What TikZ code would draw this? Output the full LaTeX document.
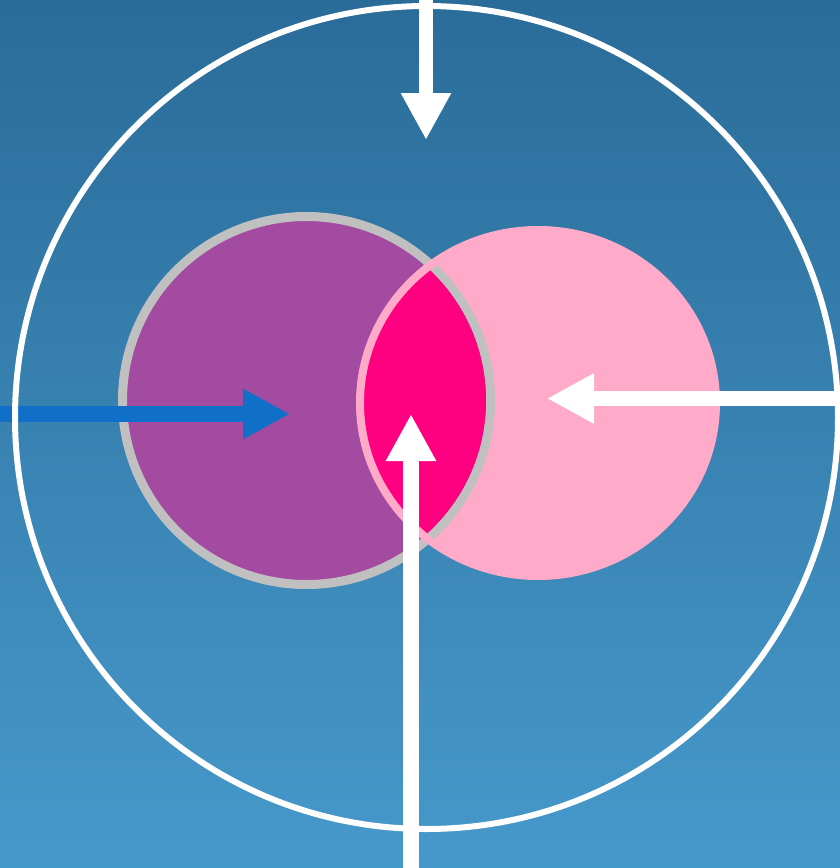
\documentclass[tikz,border=0pt]{standalone}
\usetikzlibrary{arrows.meta}
\definecolor{bgtop}{HTML}{2A6C99}
\definecolor{bgbot}{HTML}{4699CB}
\definecolor{purp}{HTML}{A24BA0}
\definecolor{pinkc}{HTML}{FFAAC8}
\definecolor{mag}{HTML}{FF0080}
\definecolor{ringgray}{HTML}{C0C0C0}
\definecolor{bluearrow}{HTML}{1070C8}
\tikzset{
  bigarrow/.style={line width=15pt, line cap=butt, -{Triangle[length=47pt,width=47pt]}},
}
\begin{document}
\begin{tikzpicture}[x=1pt,y=-1pt]
\useasboundingbox (0,0) rectangle (840,868);
\shade[top color=bgtop, bottom color=bgbot] (0,0) rectangle (840,868);
% pink circle fill
\fill[pinkc] (538,403) ellipse[x radius=182, y radius=177];
% purple circle with gray ring
\fill[purp] (306.5,400.5) circle[radius=184];
\draw[ringgray, line width=9pt] (306.5,400.5) circle[radius=184];
% lens
\begin{scope}
  \clip (306.5,400.5) circle[radius=179.5];
  \fill[mag] (538,403) ellipse[x radius=178, y radius=173];
\end{scope}
\begin{scope}
  \clip (306.5,400.5) circle[radius=188.5];
  \draw[pinkc, line width=8pt] (538,403) ellipse[x radius=178, y radius=173];
\end{scope}
% arrows
\coordinate (topS) at (426,0);
\coordinate (topE) at (426,140);
\coordinate (leftS) at (0,414);
\coordinate (leftE) at (290,414);
\coordinate (rightS) at (840,398.5);
\coordinate (rightE) at (547,398.5);
\coordinate (botS) at (411,868);
\coordinate (botE) at (411,414);
\draw[bigarrow, bluearrow, line width=16pt] (leftS) -- (leftE);
% outer circle
\draw[white, line width=6pt] (426.5,417.5) circle[radius=411.5];
\draw[bigarrow, white, line width=14pt] (topS) -- (topE);
\draw[bigarrow, white] (rightS) -- (rightE);
\draw[bigarrow, white, line width=16pt] (botS) -- (botE);
\end{tikzpicture}
\end{document}
